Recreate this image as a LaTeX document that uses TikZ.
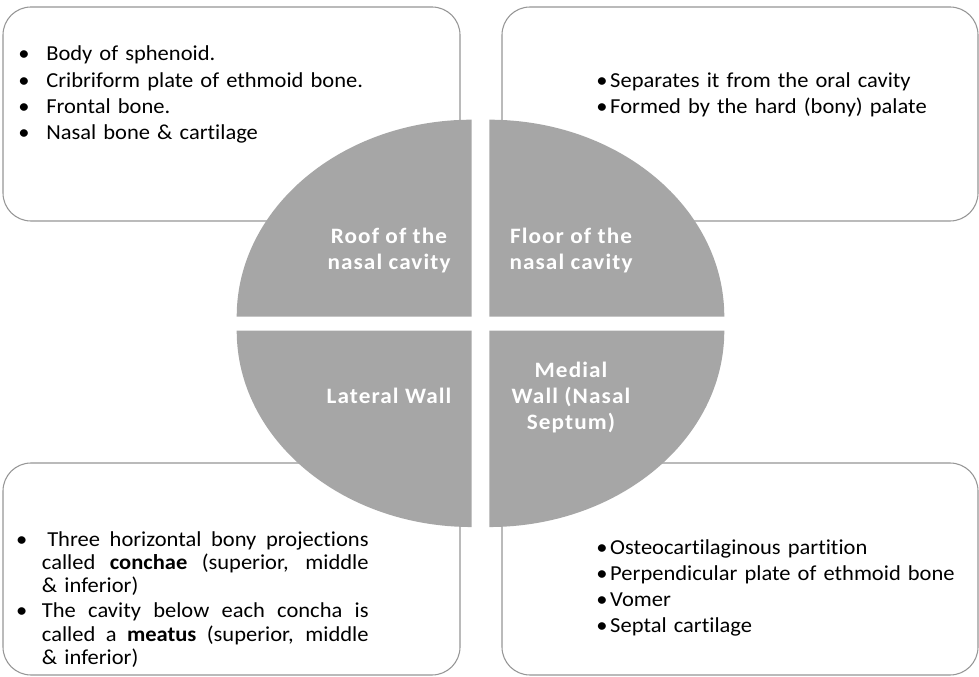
\documentclass[tikz,border=0pt]{standalone}
\usepackage{fontspec}
\setmainfont{Carlito}[FakeStretch=1.055, Ligatures={NoCommon}]
\usepackage{xcolor}
\usetikzlibrary{positioning}
\definecolor{quadgray}{RGB}{166,166,166}
\definecolor{framegray}{RGB}{150,150,150}
\tikzset{
  frame/.style={draw=framegray, line width=0.8pt, rounded corners=21pt, fill=white},
  quad/.style={fill=quadgray},
  quadlabel/.style={text=white, font=\fontsize{16.5}{19.5}\selectfont\bfseries\addfontfeature{LetterSpace=5}, align=center, inner sep=0pt},
  facts/.style={anchor=base west, inner sep=0pt, text width=#1, align=left, font=\fontsize{16}{19.6}\selectfont}
}
\newcommand{\dotitem}[1]{\leavevmode\makebox[#1][l]{\textbullet}}
% one justified line of the lateral wall list
\newcommand{\fullline}[1]{\makebox[245pt][s]{\spaceskip=0.23em plus 1fil\relax #1}}

\begin{document}
\begin{tikzpicture}[x=0.75pt, y=0.75pt]
\useasboundingbox (0,0) rectangle (979,-677);

% the four text frames
\draw[frame] (3,-7) rectangle (460,-221);
\draw[frame] (502,-7) rectangle (978,-221);
\draw[frame] (3,-463) rectangle (460,-675);
\draw[frame] (502,-463) rectangle (978,-675);

% split ellipse in the middle
\fill[quad] (471.7,-316.7) -- (236.7,-316.7) arc[start angle=180, end angle=90, x radius=176.25pt, y radius=147.75pt] -- cycle;
\fill[quad] (489.3,-316.7) -- (724.3,-316.7) arc[start angle=0, end angle=90, x radius=176.25pt, y radius=147.75pt] -- cycle;
\fill[quad] (471.7,-330.7) -- (236.7,-330.7) arc[start angle=180, end angle=270, x radius=176.25pt, y radius=147.25pt] -- cycle;
\fill[quad] (489.3,-330.7) -- (724.3,-330.7) arc[start angle=0, end angle=-90, x radius=176.25pt, y radius=147.25pt] -- cycle;

\node[quadlabel] (roof) at (389,-251) {Roof of the\\nasal cavity};
\node[quadlabel] (floor) at (571,-251) {Floor of the\\nasal cavity};
\node[quadlabel] (lateral) at (389,-396) {Lateral Wall};
\node[quadlabel] (medial) at (571,-398) {Medial\\Wall (Nasal\\Septum)};

% bullet lists
\node[facts=330pt] (roofparts) at (18,-61) {%
  \dotitem{21pt}Body of sphenoid.\\
  \dotitem{21pt}Cribriform plate of ethmoid bone.\\
  \dotitem{21pt}Frontal bone.\\
  \dotitem{21pt}Nasal bone \& cartilage};
\node[facts=330pt] (floorparts) at (596,-87.5) {%
  \dotitem{10.5pt}Separates it from the oral cavity\\
  \dotitem{10.5pt}Formed by the hard (bony) palate};
\node[facts=330pt] (medialparts) at (596,-554) {%
  \dotitem{10.5pt}Osteocartilaginous partition\\
  \dotitem{10.5pt}Perpendicular plate of ethmoid bone\\
  \dotitem{10.5pt}Vomer\\
  \dotitem{10.5pt}Septal cartilage};
\node[facts=245pt, font=\fontsize{16}{17.5}\selectfont] (lateralparts) at (41.7,-546) {%
  \leavevmode\llap{\textbullet\hspace{11pt}}\fullline{\hspace{4pt}Three horizontal bony projections}\\
  \fullline{called \textbf{conchae} (superior, middle}\\
  \& inferior)\\[1.3pt]
  \leavevmode\llap{\textbullet\hspace{11pt}}\fullline{The cavity below each concha is}\\
  \fullline{called a \textbf{meatus} (superior, middle}\\
  \& inferior)};
\end{tikzpicture}
\end{document}
